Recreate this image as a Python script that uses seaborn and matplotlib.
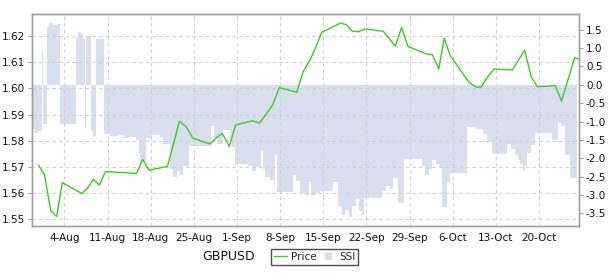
import numpy as np
import pandas as pd
import matplotlib
matplotlib.use("Agg")
import matplotlib.pyplot as plt
import matplotlib.dates as mdates
import matplotlib.ticker as mticker
from matplotlib.lines import Line2D
import seaborn as sns

YEAR = "2013-"
symbol = "GBPUSD"

price_dates = ["07-30 19", "07-31 18", "08-01 19", "08-02 18", "08-03 16", "08-06 20",
               "08-07 18", "08-08 17", "08-09 16", "08-10 16", "08-15 17", "08-16 17",
               "08-17 18", "08-20 18", "08-22 16", "08-23 19", "08-24 20", "08-27 15",
               "08-28 17", "08-29 15", "08-30 18", "08-31 19", "09-03 13", "09-04 15",
               "09-05 17", "09-06 20", "09-07 21", "09-10 17", "09-11 18", "09-12 20",
               "09-13 17", "09-14 18", "09-17 19", "09-18 17", "09-19 16", "09-20 17",
               "09-21 19", "09-24 18", "09-26 17", "09-27 17", "09-28 18", "10-01 19",
               "10-02 17", "10-03 18", "10-04 15", "10-05 15", "10-08 15", "10-09 18",
               "10-10 15", "10-11 15", "10-12 18", "10-15 17", "10-17 16", "10-18 18",
               "10-19 18", "10-22 16", "10-23 16", "10-25 19", "10-26 09"]
price_values = [1.5706, 1.5672, 1.5533, 1.5510, 1.5640, 1.5598,
                1.5618, 1.5653, 1.5630, 1.5682, 1.5675, 1.5728,
                1.5687, 1.5702, 1.5874, 1.5853, 1.5810, 1.5787,
                1.5812, 1.5828, 1.5778, 1.5860, 1.5876, 1.5867,
                1.5900, 1.5938, 1.6003, 1.5985, 1.6064, 1.6107,
                1.6152, 1.6214, 1.6249, 1.6244, 1.6219, 1.6216,
                1.6227, 1.6218, 1.6161, 1.6233, 1.6160, 1.6131,
                1.6129, 1.6074, 1.6192, 1.6124, 1.6024, 1.6005,
                1.6005, 1.6043, 1.6074, 1.6070, 1.6146, 1.6044,
                1.6006, 1.6010, 1.5951, 1.6118, 1.6112]

ssi_dates = ["07-29 18", "07-30 06", "07-30 18", "07-31 07", "07-31 11", "08-01 03",
             "08-01 12", "08-02 04", "08-02 20", "08-03 07", "08-05 22", "08-06 05",
             "08-06 17", "08-07 01", "08-07 07", "08-07 14", "08-08 08", "08-08 16",
             "08-09 05", "08-10 11", "08-11 10", "08-12 17", "08-13 16", "08-14 16",
             "08-15 15", "08-16 01", "08-16 07", "08-17 06", "08-18 05", "08-19 13",
             "08-20 00", "08-21 03", "08-21 15", "08-22 07", "08-22 18", "08-23 06",
             "08-24 04", "08-27 19", "08-28 05", "08-28 18", "08-29 18", "08-30 21",
             "08-31 05", "08-31 15", "09-02 19", "09-03 11", "09-04 02", "09-04 22",
             "09-05 04", "09-05 13", "09-06 09", "09-07 00", "09-07 06", "09-07 12",
             "09-10 02", "09-10 14", "09-11 06", "09-12 01", "09-12 17", "09-13 00",
             "09-13 20", "09-14 11", "09-16 14", "09-17 10", "09-18 01", "09-18 13",
             "09-19 04", "09-19 16", "09-20 08", "09-20 19", "09-21 07", "09-21 13",
             "09-24 13", "09-25 04", "09-25 20", "09-26 08", "09-27 03", "09-28 02",
             "10-01 01", "10-01 12", "10-02 04", "10-02 15", "10-03 07", "10-03 19",
             "10-04 06", "10-05 02", "10-05 12", "10-08 08", "10-09 19", "10-10 22",
             "10-11 14", "10-12 09", "10-14 19", "10-15 11", "10-16 03", "10-16 14",
             "10-16 22", "10-17 10", "10-17 17", "10-18 01", "10-18 17", "10-19 08",
             "10-22 03", "10-23 02", "10-23 14", "10-24 05", "10-25 01", "10-26 04"]
ssi_values = [-1.20, -1.30, -1.25, 0.95, -1.08, 1.60,
              1.68, 1.64, 1.66, -1.08, 1.30, 1.45,
              1.38, 1.25, -1.15, 1.32, -1.25, -1.40,
              1.25, -1.35, -1.40, -1.38, -1.45, -1.42,
              -1.50, -1.85, -2.10, -1.45, -1.38, -1.42,
              -1.60, -2.30, -2.50, -2.35, -2.45, -2.20,
              -1.68, -1.13, -1.45, -1.60, -1.22, -1.50,
              -1.70, -2.15, -2.20, -2.35, -2.25, -1.80,
              -2.30, -2.50, -2.60, -2.75, -1.90, -2.92,
              -2.45, -2.62, -2.95, -3.00, -2.65, -3.00,
              -2.95, -2.88, -2.65, -3.30, -3.55, -3.40,
              -3.60, -3.30, -3.10, -3.45, -3.55, -3.07,
              -2.90, -2.75, -2.85, -2.55, -3.22, -2.03,
              -2.20, -2.45, -2.30, -2.05, -2.15, -2.25,
              -3.33, -2.64, -2.41, -1.16, -1.20, -1.35,
              -1.55, -1.88, -1.60, -1.75, -1.90, -2.05,
              -2.15, -2.35, -2.20, -1.85, -1.65, -1.32,
              -1.50, -1.05, -1.12, -1.90, -2.53, -2.53]

left_ticks = [1.55, 1.56, 1.57, 1.58, 1.59, 1.60, 1.61, 1.62]
right_ticks = [-3.5, -3.0, -2.5, -2.0, -1.5, -1.0, -0.5, 0.0, 0.5, 1.0, 1.5]
x_start, x_end = "07-29 18", "10-26 12"


def to_dt(items):
    return pd.to_datetime([YEAR + s + ":00" for s in items])


price_df = pd.DataFrame({"date": to_dt(price_dates), "Price": price_values})
ssi_df = pd.DataFrame({"date": to_dt(ssi_dates), "SSI": ssi_values})

sns.set_style("white")
plt.rcParams["font.family"] = ["DejaVu Sans"]

W, H = 610, 273
fig = plt.figure(figsize=(W / 100, H / 100), dpi=100)
ax = fig.add_axes([32 / W, 47 / H, 547 / W, 212 / H])
ax2 = ax.twinx()

fill_color = "#d9dfef"
line_color = "#3ccc22"
spine_color = "#a0a0a0"

ax2.fill_between(ssi_df["date"], 0, ssi_df["SSI"], step="post",
                 color=fill_color, linewidth=0)
ax2.set_ylim(-3.846, 1.93)
ax2.set_yticks(right_ticks)
ax2.yaxis.set_major_formatter(mticker.FormatStrFormatter("%.1f"))

sns.lineplot(data=price_df, x="date", y="Price", ax=ax, color=line_color,
             linewidth=1.0)
ax.set_zorder(ax2.get_zorder() + 1)
ax.patch.set_visible(False)
ax.set_ylim(1.5474, 1.6284)
ax.set_yticks(left_ticks)
ax.yaxis.set_major_formatter(mticker.FormatStrFormatter("%.2f"))
ax.set_xlim(to_dt([x_start])[0], to_dt([x_end])[0])
ax.xaxis.set_major_locator(mdates.WeekdayLocator(byweekday=mdates.SU))
ax.xaxis.set_major_formatter(
    mticker.FuncFormatter(lambda v, p: f"{mdates.num2date(v).day}-{mdates.num2date(v).strftime('%b')}"))
ax.set_xlabel("")
ax.set_ylabel("")
ax2.set_ylabel("")

ax.grid(True, color="#d0d0d0", linestyle=(0, (3, 3)), linewidth=0.8)
for a in (ax, ax2):
    for s in a.spines.values():
        s.set_color(spine_color)
        s.set_linewidth(1.0)
    a.tick_params(labelsize=7.5, length=3, color=spine_color, width=0.8,
                  labelcolor="#111111", pad=2)

fig.text(202 / W, 1 - 256 / H, symbol, fontsize=9, va="center", ha="left",
         color="#111111")
handles = [Line2D([], [], color=line_color, linewidth=1.0),
           Line2D([], [], color=fill_color, marker="s", markersize=5, linestyle="none")]
leg = fig.legend(handles, ["Price", "SSI"], loc="center",
                 bbox_to_anchor=(314.5 / W, 1 - 257 / H), ncol=2, fontsize=7.5,
                 frameon=True, fancybox=False, handlelength=1.3, handletextpad=0.4,
                 columnspacing=0.4, borderpad=0.3, borderaxespad=0)
leg.get_frame().set_edgecolor("#222222")
leg.get_frame().set_linewidth(1.0)

fig.savefig("out.png", dpi=100)
